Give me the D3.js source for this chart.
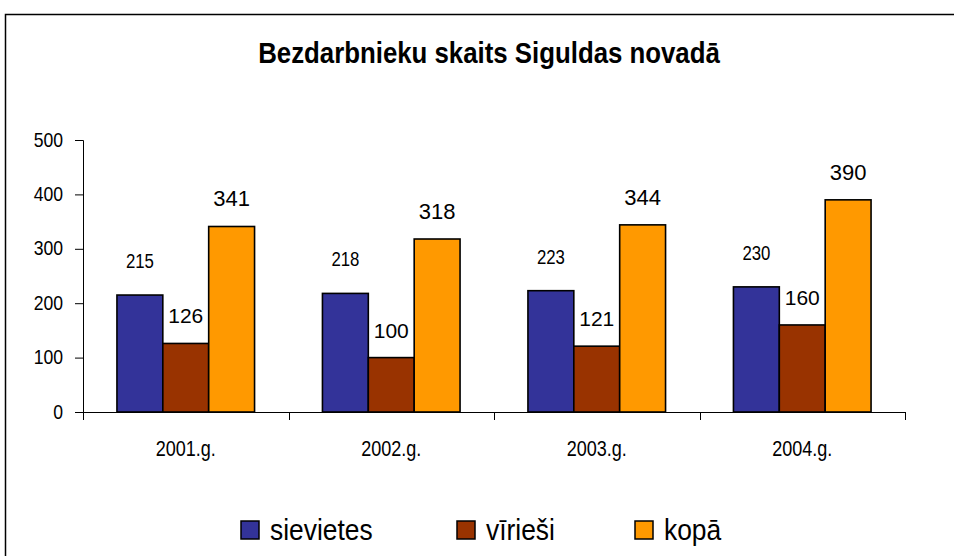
<!DOCTYPE html>
<html>
<head>
<meta charset="utf-8">
<script src="https://cdn.jsdelivr.net/npm/d3@7"></script>
<style>
body { margin: 0; background: #fff; }
</style>
</head>
<body>
<div id="the_chart"></div>
<script>
var years = ["2001.g.", "2002.g.", "2003.g.", "2004.g."];
var seriesNames = ["sievietes", "vīrieši", "kopā"];
var sievietes = [215, 218, 223, 230];
var virieši = [126, 100, 121, 160];
var kopa = [341, 318, 344, 390];
var yTicks = [0, 100, 200, 300, 400, 500];
var colors = ["#333399", "#993300", "#FF9900"];

var font = "'Liberation Sans', Arial, sans-serif";

// text squeezed horizontally to look like Arial Narrow
function narrowText(sel, x, y, sx) {
    return sel.attr("x", 0).attr("y", 0)
        .attr("transform", "translate(" + x + "," + y + ") scale(" + sx + ",1)");
}

function gen_vis() {
    var w = 954, h = 556;
    var svg = d3.select("#the_chart").append("svg")
        .attr("width", w)
        .attr("height", h);

    // frame
    svg.append("rect")
        .attr("x", 5.5).attr("y", 14.5)
        .attr("width", 1000).attr("height", 700)
        .attr("fill", "none").attr("stroke", "#000").attr("stroke-width", 1.5);

    narrowText(svg.append("text"), 489, 63, 0.89)
        .attr("text-anchor", "middle")
        .style("font-family", font)
        .style("font-weight", "bold")
        .style("font-size", "29px")
        .text("Bezdarbnieku skaits Siguldas novadā");

    var left = 83, right = 905, top = 140, bottom = 412;

    var yscale = d3.scaleLinear().domain([0, 500]).range([bottom, top]);
    var xscale = d3.scaleBand().domain(years).range([left, right]);
    var inner = d3.scaleBand().domain(d3.range(3)).range([0, xscale.bandwidth()])
        .paddingOuter(0.74).paddingInner(0);

    var data = [sievietes, virieši, kopa];

    var yaxis = d3.axisLeft(yscale).tickValues(yTicks).tickSize(8).tickPadding(12);
    var gy = svg.append("g").attr("transform", "translate(" + left + ",0)").call(yaxis);
    gy.select(".domain").attr("stroke", "#000");
    gy.selectAll(".tick text")
        .attr("dy", null)
        .each(function () {
            narrowText(d3.select(this), -20, 6, 0.88);
        })
        .style("font-family", font).style("font-size", "20px").attr("fill", "#000");

    var xaxis = d3.axisBottom(xscale).tickSize(0).tickPadding(24);
    var gx = svg.append("g").attr("transform", "translate(0," + bottom + ")").call(xaxis);
    gx.select(".domain").attr("stroke", "#000");
    gx.selectAll(".tick text")
        .attr("dy", null)
        .each(function () {
            narrowText(d3.select(this), 0, 44, 0.82);
        })
        .style("font-family", font).style("font-size", "22px").attr("fill", "#000");
    // category separators
    gx.selectAll(".sep")
        .data(years.map(function (d) { return xscale(d); }).concat([right]))
        .enter().append("line")
        .attr("x1", function (d) { return Math.round(d) + 0.5; })
        .attr("x2", function (d) { return Math.round(d) + 0.5; })
        .attr("y1", 0).attr("y2", 8)
        .attr("stroke", "#000");

    var offs = [27, 20, 20];
    var sizes = ["21px", "21px", "22px"];
    var squeeze = [0.8, 1, 1];
    for (var s = 0; s < 3; s++) {
        var g = svg.append("g");
        g.selectAll("rect")
            .data(data[s])
            .enter().append("rect")
            .attr("x", function (d, i) { return xscale(years[i]) + inner(s); })
            .attr("y", function (d) { return yscale(d); })
            .attr("width", inner.bandwidth())
            .attr("height", function (d) { return bottom - yscale(d); })
            .attr("fill", colors[s])
            .attr("stroke", "#000")
            .attr("stroke-width", 1.6);

        g.selectAll("text")
            .data(data[s])
            .enter().append("text")
            .each(function (d, i) {
                narrowText(d3.select(this),
                    xscale(years[i]) + inner(s) + inner.bandwidth() / 2,
                    yscale(d) - offs[s], squeeze[s]);
            })
            .attr("text-anchor", "middle")
            .style("font-family", font)
            .style("font-size", sizes[s])
            .text(function (d) { return d; });
    }

    // legend
    var legX = [241, 457, 635];
    var leg = svg.append("g").selectAll("g")
        .data(seriesNames)
        .enter().append("g")
        .attr("transform", function (d, i) { return "translate(" + legX[i] + ",521)"; });
    leg.append("rect")
        .attr("width", 18).attr("height", 18)
        .attr("fill", function (d, i) { return colors[i]; })
        .attr("stroke", "#000").attr("stroke-width", 1.5);
    leg.append("text")
        .each(function () { narrowText(d3.select(this), 29, 19, 0.91); })
        .style("font-family", font)
        .style("font-size", "29px")
        .text(function (d) { return d; });
}

gen_vis();
</script>
</body>
</html>
